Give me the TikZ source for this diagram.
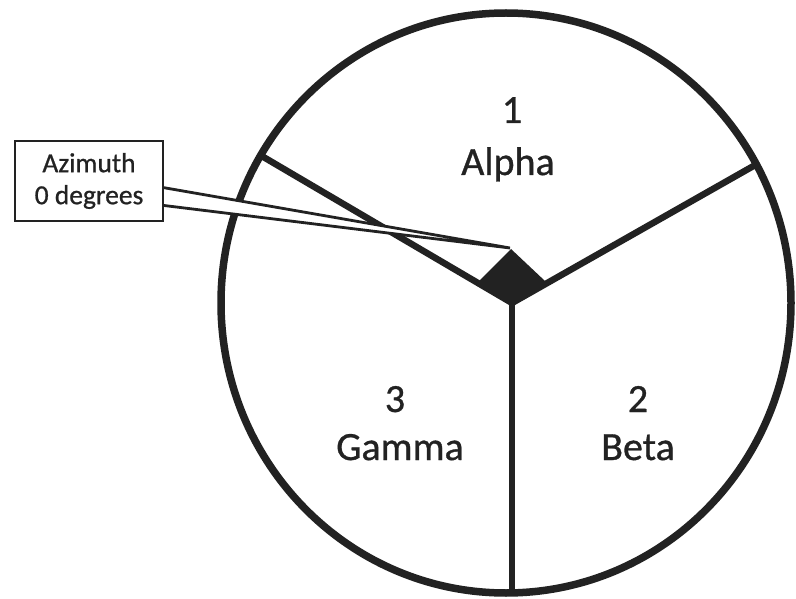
\documentclass[tikz,border=0pt]{standalone}
\usepackage{fontspec}
\setmainfont{Carlito}[FakeBold=0.8]
\definecolor{inkc}{HTML}{222222}
\tikzset{
  rim/.style={draw=inkc, line width=7.5pt},
  divider/.style={draw=inkc, line width=6.5pt},
  pointer/.style={draw=inkc, line width=2.8pt, fill=white, line join=miter},
  labelbox/.style={draw=inkc, line width=2.8pt, fill=white, minimum width=148pt, minimum height=80pt, inner sep=0pt, align=center, font=\fontsize{27.5}{32}\selectfont, text=inkc},
  biglabel/.style={anchor=base, inner sep=0pt, font=\fontsize{40}{48}\selectfont, text=inkc},
}
\begin{document}
\begin{tikzpicture}[x=1pt,y=-1pt]
\useasboundingbox[fill=white] (0,0) rectangle (796,599);
% circle
\draw[rim] (506,303) ellipse [x radius=285pt, y radius=290pt];
% sector dividers
\coordinate (hub) at (512,303);
\coordinate (ul) at (260,155);
\coordinate (ur) at (757,164);
\coordinate (bt) at (512,594);
\draw[divider] (hub) -- (ul);
\draw[divider] (hub) -- (ur);
\draw[divider] (hub) -- (bt);
% diamond marker at hub
\fill[inkc] (511,249) -- (545,281) -- (hub) -- (479,281) -- cycle;
% callout pointer, then box on top
\coordinate (tip) at (510,248);
\coordinate (pa) at (160,187);
\coordinate (pb) at (160,205);
\path[pointer] (pa) -- (tip) -- (pb);
\node[labelbox] (az) at (89,181) {Azimuth\\0 degrees};
% sector labels
\node[biglabel] (n1) at (512,123) {1};
\node[biglabel] (t1) at (508,175) {Alpha};
\node[biglabel] (n3) at (395,412) {3};
\node[biglabel] (t3) at (400,460) {Gamma};
\node[biglabel] (n2) at (638,412) {2};
\node[biglabel] (t2) at (638,460) {Beta};
\end{tikzpicture}
\end{document}
